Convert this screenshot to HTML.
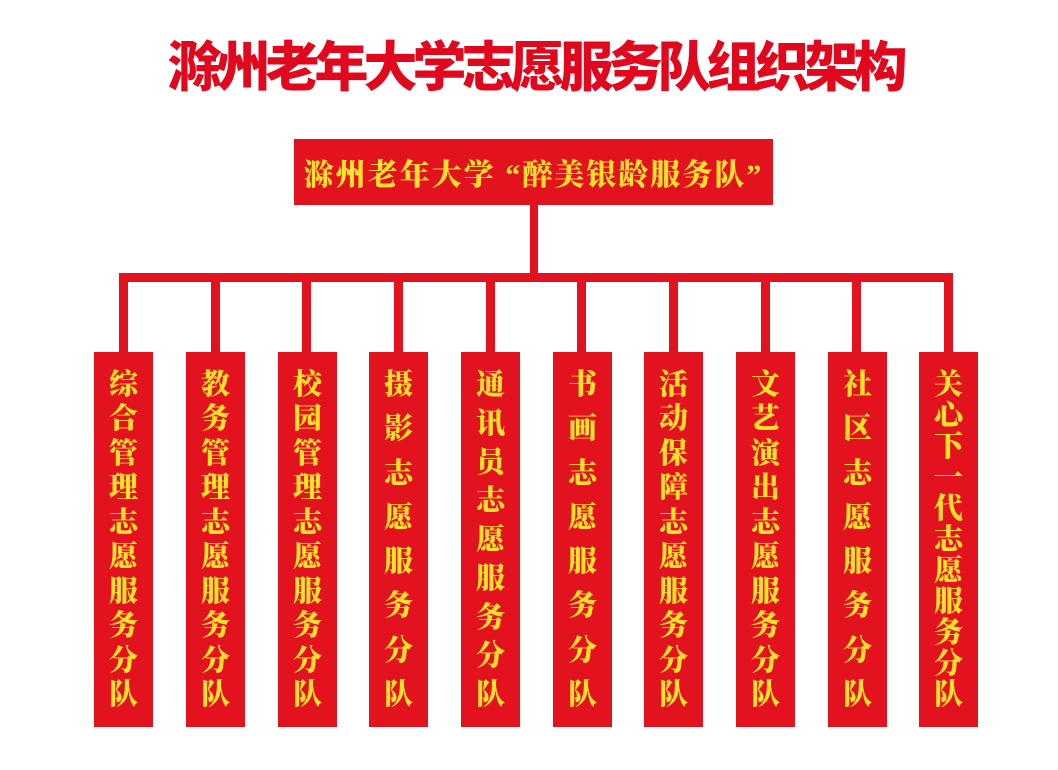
<!DOCTYPE html>
<html><head><meta charset="utf-8"><style>
html,body{margin:0;padding:0;background:#fff;}
body{width:1058px;height:770px;position:relative;overflow:hidden;}
.t{position:absolute;left:0;width:1070px;top:33px;text-align:center;font-family:"Liberation Sans","Noto Sans CJK SC",sans-serif;font-weight:900;font-size:54px;line-height:70px;letter-spacing:-5px;color:#e1081d;}
.r{position:absolute;background:#e3121f;}
.top{left:294px;top:139px;width:479px;height:66px;display:flex;align-items:center;justify-content:center;font-family:"Liberation Serif","Noto Serif CJK SC",serif;font-weight:900;font-size:30px;color:#ffe02a;letter-spacing:2px;}
.b{top:352px;width:59px;height:375px;box-sizing:border-box;padding:18px 0 16px;display:flex;flex-direction:column;justify-content:space-between;align-items:center;font-family:"Liberation Serif","Noto Serif CJK SC",serif;font-weight:900;font-size:29px;line-height:31px;color:#ffe02a;}
</style></head><body>
<div class="t">滁州老年大学志愿服务队组织架构</div>
<div class="r top">滁州老年大学 “醉美银龄服务队”</div>
<div class="r" style="left:530px;top:205px;width:8px;height:70px"></div>
<div class="r" style="left:119px;top:273px;width:834px;height:9px"></div>
<div class="r" style="left:119px;top:273px;width:9px;height:80px"></div>
<div class="r" style="left:211px;top:273px;width:9px;height:80px"></div>
<div class="r" style="left:302px;top:273px;width:9px;height:80px"></div>
<div class="r" style="left:394px;top:273px;width:9px;height:80px"></div>
<div class="r" style="left:486px;top:273px;width:9px;height:80px"></div>
<div class="r" style="left:577px;top:273px;width:9px;height:80px"></div>
<div class="r" style="left:669px;top:273px;width:9px;height:80px"></div>
<div class="r" style="left:761px;top:273px;width:9px;height:80px"></div>
<div class="r" style="left:852px;top:273px;width:9px;height:80px"></div>
<div class="r" style="left:944px;top:273px;width:9px;height:80px"></div>
<div class="r b" style="left:94px"><span>综</span><span>合</span><span>管</span><span>理</span><span>志</span><span>愿</span><span>服</span><span>务</span><span>分</span><span>队</span></div>
<div class="r b" style="left:186px"><span>教</span><span>务</span><span>管</span><span>理</span><span>志</span><span>愿</span><span>服</span><span>务</span><span>分</span><span>队</span></div>
<div class="r b" style="left:278px"><span>校</span><span>园</span><span>管</span><span>理</span><span>志</span><span>愿</span><span>服</span><span>务</span><span>分</span><span>队</span></div>
<div class="r b" style="left:369px"><span>摄</span><span>影</span><span>志</span><span>愿</span><span>服</span><span>务</span><span>分</span><span>队</span></div>
<div class="r b" style="left:461px"><span>通</span><span>讯</span><span>员</span><span>志</span><span>愿</span><span>服</span><span>务</span><span>分</span><span>队</span></div>
<div class="r b" style="left:553px"><span>书</span><span>画</span><span>志</span><span>愿</span><span>服</span><span>务</span><span>分</span><span>队</span></div>
<div class="r b" style="left:644px"><span>活</span><span>动</span><span>保</span><span>障</span><span>志</span><span>愿</span><span>服</span><span>务</span><span>分</span><span>队</span></div>
<div class="r b" style="left:736px"><span>文</span><span>艺</span><span>演</span><span>出</span><span>志</span><span>愿</span><span>服</span><span>务</span><span>分</span><span>队</span></div>
<div class="r b" style="left:828px"><span>社</span><span>区</span><span>志</span><span>愿</span><span>服</span><span>务</span><span>分</span><span>队</span></div>
<div class="r b" style="left:919px"><span>关</span><span>心</span><span>下</span><span>一</span><span>代</span><span>志</span><span>愿</span><span>服</span><span>务</span><span>分</span><span>队</span></div>
</body></html>
